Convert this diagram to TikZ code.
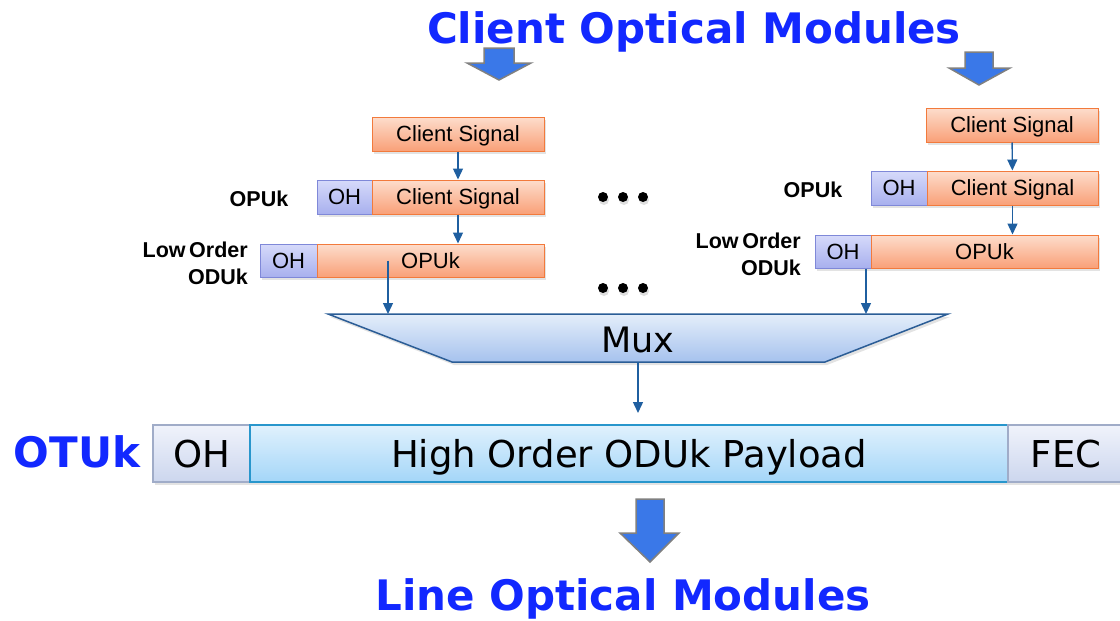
\documentclass[tikz,border=0pt]{standalone}
\usepackage{fontspec}
\setmainfont{Liberation Sans}
\newfontfamily\dejavu{DejaVu Sans}
\usetikzlibrary{arrows.meta,shadows,calc}

\definecolor{titleblue}{RGB}{18,40,255}
\definecolor{connblue}{RGB}{31,95,160}
\definecolor{orTop}{RGB}{253,221,204}
\definecolor{orBot}{RGB}{249,160,120}
\definecolor{orLine}{RGB}{242,122,60}
\definecolor{ohTop}{RGB}{214,218,250}
\definecolor{ohBot}{RGB}{168,176,238}
\definecolor{ohLine}{RGB}{127,136,216}
\definecolor{grTop}{RGB}{240,243,251}
\definecolor{grBot}{RGB}{204,214,238}
\definecolor{grLine}{RGB}{160,172,200}
\definecolor{plTop}{RGB}{224,241,253}
\definecolor{plBot}{RGB}{164,214,248}
\definecolor{plLine}{RGB}{40,150,204}
\definecolor{muxTop}{RGB}{228,238,250}
\definecolor{muxBot}{RGB}{166,194,238}
\definecolor{muxLine}{RGB}{43,93,150}
\definecolor{bigArrow}{RGB}{58,120,232}

\tikzset{
  boxshadow/.style={drop shadow={opacity=0.22,shadow xshift=2pt,shadow yshift=-3pt}},
  smallbox/.style={rectangle, inner sep=0pt, minimum height=34pt, line width=1pt,
    font=\fontsize{22}{26}\selectfont, text height=15.5pt, text depth=0pt, boxshadow},
  orbox/.style={smallbox, draw=orLine, top color=orTop, bottom color=orBot},
  ohbox/.style={smallbox, draw=ohLine, top color=ohTop, bottom color=ohBot},
  barbox/.style={rectangle, inner sep=0pt, minimum height=57pt, line width=1.2pt,
    font=\dejavu\fontsize{37}{40}\selectfont, text height=27pt, text depth=0pt, boxshadow},
  greybox/.style={barbox, draw=grLine, top color=grTop, bottom color=grBot},
  paybox/.style={barbox, draw=plLine, top color=plTop, bottom color=plBot},
  sidelabel/.style={font=\bfseries\fontsize{21.5}{27}\selectfont, align=right, inner sep=0pt},
  conn/.style={draw=connblue, line width=1.4pt, -{Triangle[width=10pt,length=11pt]}},
  title/.style={font=\dejavu\bfseries\fontsize{42}{46}\selectfont, text=titleblue, inner sep=0pt},
  blockarrow/.style={fill=bigArrow, draw=gray, line width=1.5pt, line join=miter},
  dot/.style={circle, fill=black, inner sep=0pt, minimum size=10pt,
    drop shadow={opacity=0.25,shadow xshift=1pt,shadow yshift=-3pt}},
}

\begin{document}
\begin{tikzpicture}[x=1pt,y=-1pt]
\useasboundingbox (0,0) rectangle (1120,621);

% titles
\node[title, anchor=base] (ctitle) at (694,43) {Client Optical Modules};
\node[title, anchor=base] (ltitle) at (623,610) {Line Optical Modules};

% block arrows
\draw[blockarrow] (484,48) -- (514,48) -- (514,63) -- (531,63) -- (499,80)
  -- (467,63) -- (484,63) -- cycle;
\draw[blockarrow] (965,52) -- (993,52) -- (993,68) -- (1010,68) -- (979,85)
  -- (949,68) -- (965,68) -- cycle;
\draw[blockarrow] (636,499) -- (664,499) -- (664,533) -- (679,533) -- (650,562)
  -- (620,533) -- (636,533) -- cycle;

% left client stack
\node[orbox, minimum width=172pt] (csA) at (458,134) {Client Signal};
\node[ohbox, minimum width=55pt] (ohA) at (344.5,197) {OH};
\node[orbox, minimum width=172pt] (csAb) at (458,197) {Client Signal};
\node[ohbox, minimum width=57pt, minimum height=33pt] (ohAc) at (288.5,260.5) {OH};
\node[orbox, minimum width=227pt, minimum height=33pt] (opuA) at (430.5,260.5) {OPUk};
\node[sidelabel, anchor=center] (opuLabA) at (259,199) {OPUk};
\node[sidelabel, anchor=east] (loLabA) at (248,263) {Low\,Order\\ODUk};

% right client stack
\node[orbox, minimum width=172pt] (csB) at (1012,125) {Client Signal};
\node[ohbox, minimum width=56pt] (ohB) at (899,188) {OH};
\node[orbox, minimum width=171pt] (csBb) at (1012.5,188) {Client Signal};
\node[ohbox, minimum width=56pt, minimum height=33pt] (ohBc) at (843,251.5) {OH};
\node[orbox, minimum width=227pt, minimum height=33pt] (opuB) at (984.5,251.5) {OPUk};
\node[sidelabel, anchor=center] (opuLabB) at (813,190) {OPUk};
\node[sidelabel, anchor=east] (loLabB) at (801,254) {Low\,Order\\ODUk};

% ellipsis dots
\foreach \px/\nm in {603/a,623/b,643/c}{
  \node[dot] (dotU\nm) at (\px,197) {};
  \node[dot] (dotL\nm) at (\px,288) {};
}

% multiplexer
\draw[muxLine, line width=1.5pt, top color=muxTop, bottom color=muxBot,
  drop shadow={opacity=0.22,shadow xshift=2pt,shadow yshift=-3pt}]
  (328,314) -- (948,314) -- (825,362) -- (452,362) -- cycle;
\node[font=\dejavu\fontsize{35}{40}\selectfont, text height=27pt, text depth=0pt, inner sep=0pt]
  (mux) at (638,339) {Mux};
\coordinate (muxInA) at (388,314);
\coordinate (muxInB) at (866,314);
\coordinate (muxOut) at (638,362);

% OTUk frame
\node[greybox, minimum width=97pt] (ohC) at (201.5,453.5) {OH};
\node[paybox, minimum width=758pt] (pay) at (629,453.5) {High Order ODUk Payload};
\node[greybox, minimum width=116pt] (fec) at (1066,453.5) {FEC};
\node[font=\dejavu\bfseries\fontsize{42}{46}\selectfont, text=titleblue, inner sep=0pt, anchor=base]
  (otuk) at (77,467) {OTUk};
\coordinate (payIn) at (638,413);

% connectors
\draw[conn] (csA) -- (csAb);
\draw[conn] (csAb.south) -- (csAb.south |- opuA.north);
\draw[conn] (opuA.center -| muxInA) -- (muxInA);
\draw[conn] (csB) -- (csBb);
\draw[conn] (csBb.south) -- (csBb.south |- opuB.north);
\draw[conn] (opuB.south -| muxInB) -- (muxInB);
\draw[conn] (muxOut) -- (payIn);
\end{tikzpicture}
\end{document}
